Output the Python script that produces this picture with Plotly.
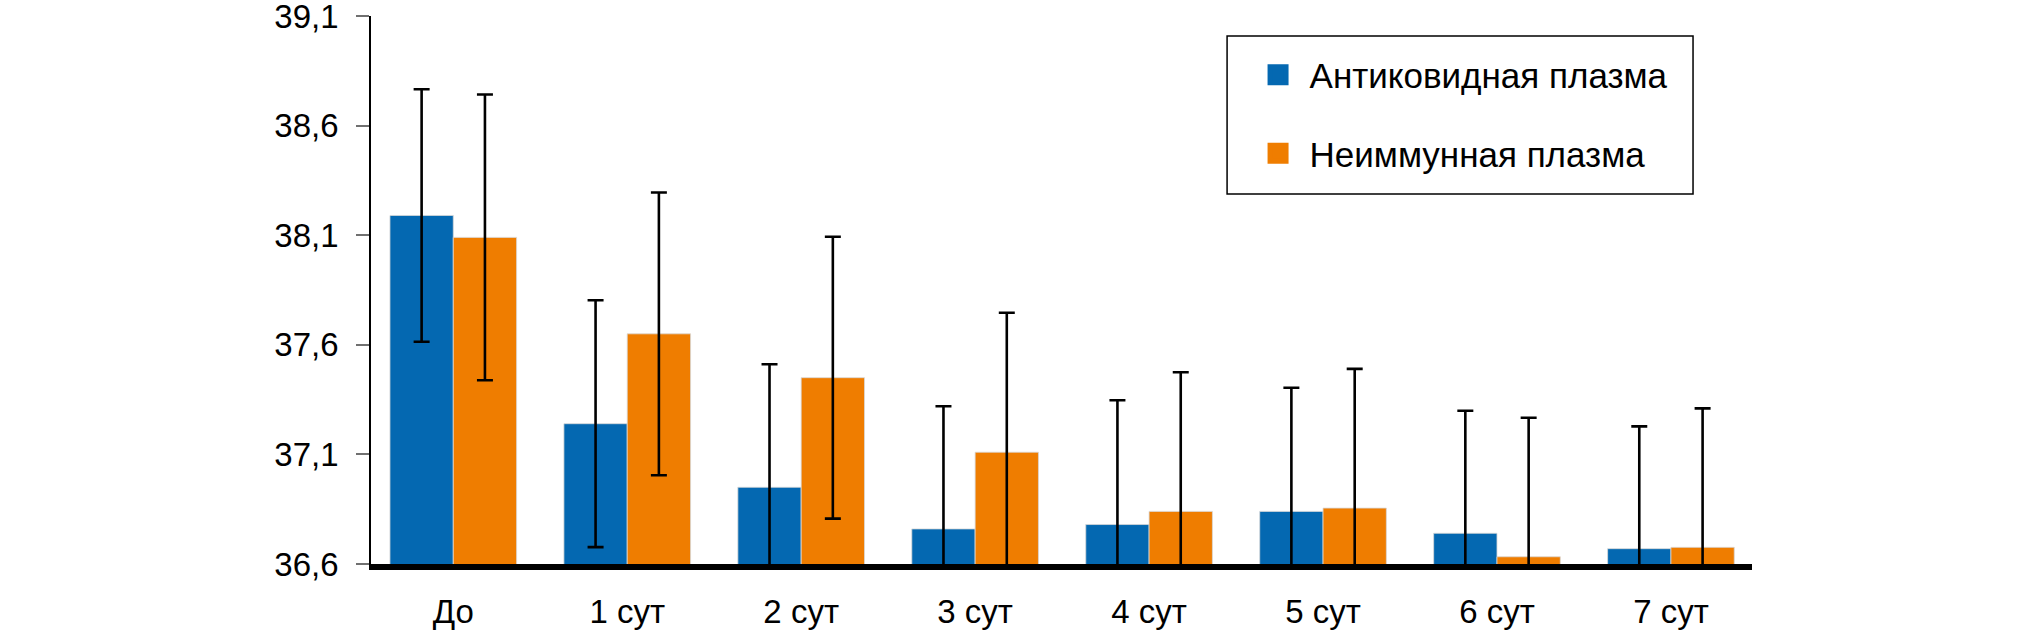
import plotly.graph_objects as go

categories = ["До", "1 сут", "2 сут", "3 сут", "4 сут", "5 сут", "6 сут", "7 сут"]
series_names = ["Антиковидная плазма", "Неиммунная плазма"]
anticovid_mean = [38.19, 37.24, 36.95, 36.76, 36.78, 36.84, 36.74, 36.67]
anticovid_err = [0.576, 0.563, 0.561, 0.560, 0.567, 0.564, 0.559, 0.558]
nonimmune_mean = [38.09, 37.65, 37.45, 37.11, 36.84, 36.855, 36.633, 36.676]
nonimmune_err = [0.652, 0.645, 0.643, 0.636, 0.635, 0.635, 0.634, 0.634]
y_tickvals = [36.6, 37.1, 37.6, 38.1, 38.6, 39.1]
y_ticktext = ["36,6", "37,1", "37,6", "38,1", "38,6", "39,1"]

BLUE = "#0468B1"
ORANGE = "#EF7D00"
FONT = "Liberation Sans, Arial, Helvetica, sans-serif"

fig = go.Figure()
for name, means, errs, col in [
    (series_names[0], anticovid_mean, anticovid_err, BLUE),
    (series_names[1], nonimmune_mean, nonimmune_err, ORANGE),
]:
    fig.add_trace(go.Bar(
        x=categories, y=means, name=name,
        marker=dict(color=col, line=dict(width=0.8, color="#d8d8d8")),
        showlegend=False,
        error_y=dict(type="data", array=errs, color="black", thickness=2.6, width=8),
    ))
    fig.add_trace(go.Scatter(
        x=[None], y=[None], mode="markers", name=name, legendgroup=name,
        marker=dict(symbol="square", size=16, color=col, line=dict(color=col, width=5)),
    ))

# legend frame (decoration)
fig.add_shape(type="rect", xref="paper", yref="paper",
              x0=0.6199, x1=0.9573, y0=0.675, y1=0.9635,
              line=dict(color="black", width=1.5), fillcolor="white", layer="below")

fig.update_layout(
    width=2031, height=631,
    margin=dict(l=371, r=279, t=16, b=67, autoexpand=False),
    paper_bgcolor="white", plot_bgcolor="white",
    barmode="group", bargap=0.272, bargroupgap=0,
    font=dict(family=FONT, size=32, color="black"),
    showlegend=True,
    legend=dict(
        x=0.634, y=0.946, xanchor="left", yanchor="top",
        borderwidth=0, bgcolor="rgba(0,0,0,0)",
        font=dict(family=FONT, size=35, color="black"),
        itemwidth=53, tracegroupgap=30,
    ),
    xaxis=dict(
        type="category", range=[-0.473, 7.466], automargin=False,
        showline=True, linecolor="black", linewidth=6,
        ticks="", showgrid=False, zeroline=False,
        tickfont=dict(size=33), ticklabelstandoff=13,
    ),
    yaxis=dict(
        range=[36.6, 39.1], tickmode="array", tickvals=y_tickvals, ticktext=y_ticktext,
        automargin=False,
        showline=True, linecolor="black", linewidth=1.7,
        ticks="outside", ticklen=13, tickwidth=1.5, tickcolor="#707070",
        showgrid=False, zeroline=False, ticklabeloverflow="allow",
        tickfont=dict(size=33), ticklabelstandoff=11,
    ),
    yaxis2=dict(
        overlaying="y", side="right", range=[36.6, 39.1], automargin=False,
        showline=True, linecolor="black", linewidth=4,
        showticklabels=False, ticks="", showgrid=False, zeroline=False,
    ),
)

fig.write_html(
    "out.html",
    config={"displayModeBar": False},
    post_script="document.body.style.margin='0';document.body.style.overflow='hidden';",
)
